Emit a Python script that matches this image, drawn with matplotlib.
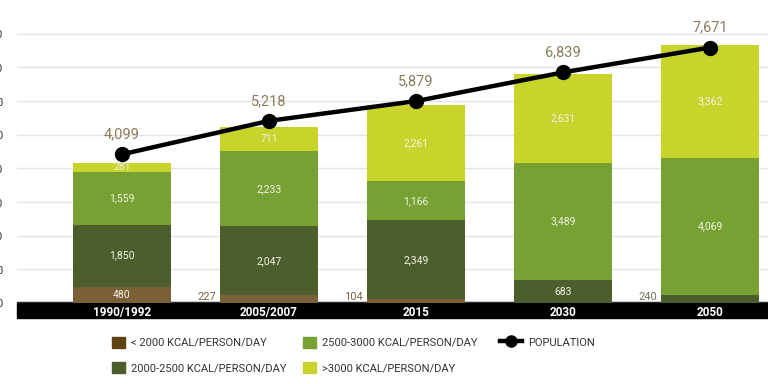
import matplotlib

matplotlib.use("Agg")
import matplotlib.pyplot as plt
from matplotlib.lines import Line2D
from matplotlib.patches import Patch, Rectangle

plt.rcParams["font.family"] = ["Roboto", "DejaVu Sans"]

# --- data (million people by dietary energy level, and total population) ---
periods = ["1990/1992", "2005/2007", "2015", "2030", "2050"]
below_2000 = [480, 227, 104, 0, 0]
kcal_2000_2500 = [1850, 2047, 2349, 683, 240]
kcal_2500_3000 = [1559, 2233, 1166, 3489, 4069]
above_3000 = [281, 711, 2261, 2631, 3362]
population = [4099, 5218, 5879, 6839, 7671]

series_labels = ["< 2000 KCAL/PERSON/DAY", "2000-2500 KCAL/PERSON/DAY",
                 "2500-3000 KCAL/PERSON/DAY", ">3000 KCAL/PERSON/DAY"]
bar_colors = ["#7a6036", "#4c5e2c", "#77a233", "#c8d42b"]
legend_colors = ["#5e4212", "#4c5e2c", "#77a233", "#c8d42b"]
outside_colors = ["#7a6540", "#6e7556", "#6e7556", "#6e7556"]
INSIDE_TXT = "#f2f2e6"
POP_TXT = "#8b7b5a"

W, H = 768, 384
fig = plt.figure(figsize=(W / 100, H / 100), dpi=100)
ax = fig.add_axes([17 / W, 1 - 303 / H, 1 - 17 / W, 303 / H])
ax.set_facecolor("none")

# black band holding the period labels
fig.patches.append(Rectangle((17 / W, 1 - 318 / H), 1 - 17 / W, 16 / H,
                             transform=fig.transFigure, color="black", zorder=-1))

x = list(range(len(periods)))
width = 0.667
bottom = [0] * len(periods)
stacks = [below_2000, kcal_2000_2500, kcal_2500_3000, above_3000]
for vals, col, ocol in zip(stacks, bar_colors, outside_colors):
    ax.bar(x, vals, width, bottom=bottom, color=col, zorder=2)
    for i, v in enumerate(vals):
        if v <= 0:
            continue
        if v < 250:
            ax.annotate(f"{v:,}", (i - width / 2, bottom[i]), xytext=(-3, 1),
                        textcoords="offset points", ha="right", va="bottom",
                        fontsize=8, color=ocol)
        else:
            ax.text(i, bottom[i] + v / 2, f"{v:,}", ha="center", va="center",
                    fontsize=7.5, color=INSIDE_TXT, zorder=3)
    bottom = [b + v for b, v in zip(bottom, vals)]

ax.set_xlim(-0.714, 4.395)
ax.set_ylim(0, 9000)
ax.set_yticks(range(0, 9000, 1000))
ax.set_yticklabels([f"{v:,}" for v in range(0, 9000, 1000)])
ax.grid(axis="y", color="#e4e4e4", linewidth=1)
ax.set_axisbelow(True)
ax.tick_params(axis="y", length=0, pad=10, labelsize=8, labelcolor="#333333")
ax.set_xticks(x)
ax.set_xticklabels(periods, fontweight="bold")
ax.tick_params(axis="x", length=0, pad=2.5, labelsize=8.5, labelcolor="white")
for s in ax.spines.values():
    s.set_visible(False)

# population on its own (hidden) scale, as drawn in the source graphic
ax2 = ax.twinx()
ax2.set_ylim(-873, 9260)
ax2.plot(x, population, color="black", linewidth=3.2, marker="o", markersize=10,
         solid_capstyle="round", zorder=5)
for i, v in enumerate(population):
    ax2.annotate(f"{v:,}", (i, v), xytext=(0, 11.5), textcoords="offset points",
                 ha="center", va="baseline", fontsize=10.5, color=POP_TXT)
ax2.set_yticks([])
for s in ax2.spines.values():
    s.set_visible(False)

# legend, three columns placed by hand
patches = [Patch(color=c, label=l) for c, l in zip(legend_colors, series_labels)]
kw = dict(frameon=False, borderpad=0, fontsize=8, handlelength=1.2, handleheight=1.2,
          handletextpad=0.55, labelspacing=1.23, labelcolor="#333333", loc="upper left")
fig.legend(handles=patches[:2], bbox_to_anchor=(106 / W, 1 - 331 / H), **kw)
fig.legend(handles=patches[2:], bbox_to_anchor=(297 / W, 1 - 331 / H), **kw)
pop_handle = Line2D([], [], color="black", linewidth=3.2, marker="o", markersize=8,
                    label="POPULATION")
kw.update(handlelength=2.0)
fig.legend(handles=[pop_handle], bbox_to_anchor=(494 / W, 1 - 331 / H), **kw)

fig.savefig("out.png", dpi=100)
